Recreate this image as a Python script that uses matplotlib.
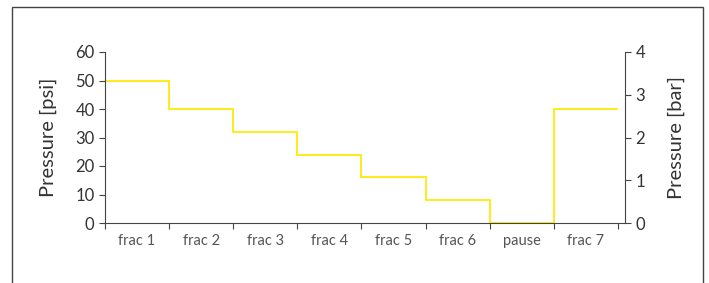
import numpy as np
import matplotlib.pyplot as plt
from matplotlib.patches import Rectangle

plt.rcParams['font.family'] = ['Lato', 'DejaVu Sans']

categories = ['frac 1', 'frac 2', 'frac 3', 'frac 4', 'frac 5', 'frac 6', 'pause', 'frac 7']
pressure_psi = [50, 40, 32, 24, 16, 8, 0, 40]
psi_ticks = [0, 10, 20, 30, 40, 50, 60]
bar_ticks = [0, 1, 2, 3, 4]

txt = '#333333'
fig = plt.figure(figsize=(7.09, 2.83), dpi=100)
# frame round the figure (open at the bottom)
fig.add_artist(Rectangle((12 / 709, -0.1), (703 - 12) / 709, 1.1 - 7 / 283,
                         transform=fig.transFigure, fill=False,
                         edgecolor='#444444', lw=1.0))

ax = fig.add_axes([105 / 709, 1 - 223 / 283, (625 - 105) / 709, (223 - 52) / 283])
n = len(categories)
edges = np.arange(n + 1)
ax.stairs(pressure_psi, edges, baseline=None, color='#FFEB1A', lw=1.4)

ax.set_xlim(0, n + 0.11)
ax.set_ylim(0, 60)
ax.set_yticks(psi_ticks)
ax.set_xticks(edges)
ax.set_xticklabels([])
ax.set_xticks(edges[:-1] + 0.5, minor=True)
ax.set_xticklabels(categories, minor=True)
ax.tick_params(axis='x', which='major', length=4, color='#444444')
ax.tick_params(axis='x', which='minor', length=0, labelsize=10.5, labelcolor='#555555', pad=8)
ax.tick_params(axis='y', length=4, color='#444444', labelsize=12, labelcolor=txt)
ax.set_ylabel('Pressure [psi]', fontsize=14.5, color=txt, labelpad=13)
for s in ['top', 'right']:
    ax.spines[s].set_visible(False)
for s in ['left', 'bottom']:
    ax.spines[s].set_color('#444444')

ax2 = ax.twinx()
ax2.set_ylim(0, 4)
ax2.set_yticks(bar_ticks)
ax2.tick_params(axis='y', length=4, color='#444444', labelsize=12, labelcolor=txt)
ax2.set_ylabel('Pressure [bar]', fontsize=14.5, color=txt, labelpad=16)
for s in ['top', 'left', 'bottom']:
    ax2.spines[s].set_visible(False)
ax2.spines['right'].set_color('#444444')

fig.savefig('out.png', dpi=100)
